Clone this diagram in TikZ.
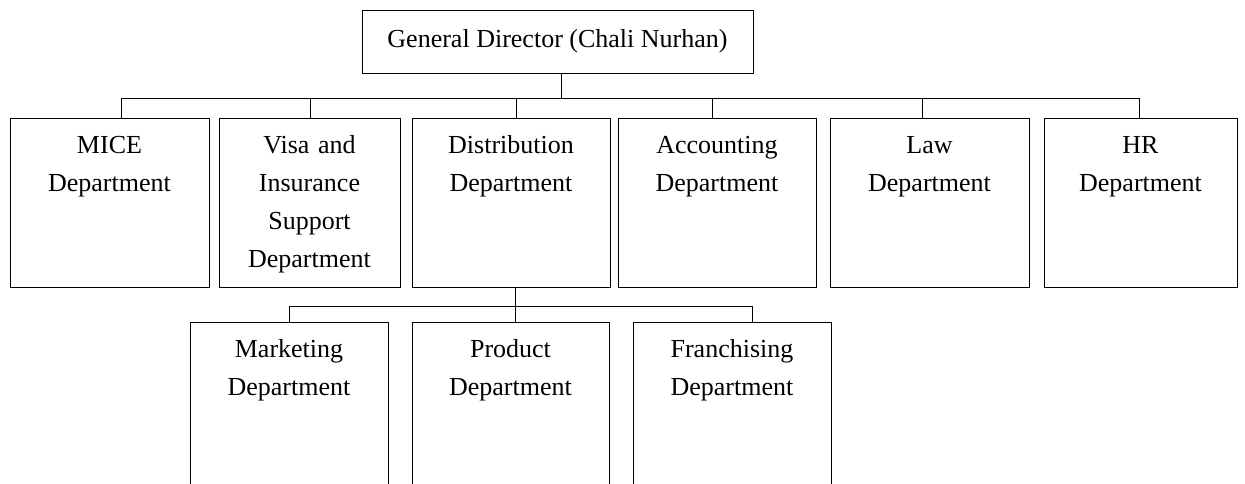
\documentclass[tikz,border=0pt]{standalone}
\usepackage{fontspec}
\setmainfont{Liberation Serif}
\usepackage{tikz}
\tikzset{orgfont/.style = {font = \fontsize{14.8pt}{21.6pt}\selectfont},
         head/.style = {draw, line width = 0.55pt, orgfont,
                        minimum width = 7.82cm, minimum height = 1.26cm},
         dept/.style = {draw, line width = 0.55pt, orgfont, anchor = north,
                        inner sep = 0pt, text width = #1, align = center,
                        text height = 0.7cm, text depth = 2.68cm},
         link/.style = {line width = 0.55pt}}

\begin{document}
\begin{tikzpicture}
    \useasboundingbox (0, 0) rectangle (24.9, -9.68);
    \clip (0, 0) rectangle (24.9, -9.68);

    \node [head] (gd) at (11.15, -0.83) {General Director (Chali Nurhan)};

    % first level
    \node [dept = 3.98cm] (mice) at (2.19, -2.36) {MICE\\Department};
    \node [dept = 3.62cm] (visa) at (6.19, -2.36) {Visa and\\Insurance\\Support\\Department};
    \node [dept = 3.96cm] (dist) at (10.22, -2.36) {Distribution\\Department};
    \node [dept = 3.96cm] (acct) at (14.34, -2.36) {Accounting\\Department};
    \node [dept = 3.98cm] (law) at (18.59, -2.36) {Law\\Department};
    \node [dept = 3.86cm] (hr) at (22.81, -2.36) {HR\\Department};

    % under distribution
    \node [dept = 3.96cm] (mkt) at (5.78, -6.44) {Marketing\\Department};
    \node [dept = 3.94cm] (prod) at (10.21, -6.44) {Product\\Department};
    \node [dept = 3.96cm] (fran) at (14.64, -6.44) {Franchising\\Department};

    \coordinate (upper) at (0, -1.96);
    \coordinate (lower) at (0, -6.12);

    \draw [link] ([xshift = 0.07cm]gd.south) -- ([xshift = 0.07cm]gd.south |- upper);
    \draw [link] ([xshift = 0.23cm]mice.north |- upper) -- ([xshift = -0.03cm]hr.north |- upper);
    \foreach \dept/\shift in {mice/0.23, visa/0.02, dist/0.1, acct/-0.1, law/-0.14, hr/-0.03}
        \draw [link] ([xshift = \shift cm]\dept.north) -- ([xshift = \shift cm]\dept.north |- upper);

    \draw [link] ([xshift = 0.08cm]dist.south) -- ([xshift = 0.08cm]dist.south |- prod.north);
    \draw [link] (mkt.north |- lower) -- ([xshift = 0.4cm]fran.north |- lower);
    \draw [link] (mkt.north) -- (mkt.north |- lower);
    \draw [link] ([xshift = 0.4cm]fran.north) -- ([xshift = 0.4cm]fran.north |- lower);
\end{tikzpicture}
\end{document}
